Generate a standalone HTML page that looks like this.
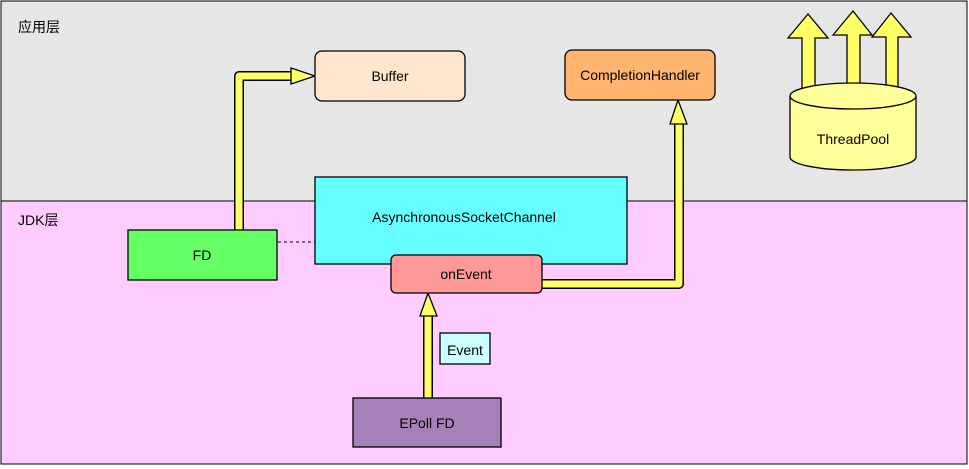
<!DOCTYPE html>
<html><head><meta charset="utf-8"><style>
body{margin:0;background:#fff}
svg{display:block;font-family:"Liberation Sans","Noto Sans CJK SC",sans-serif}
</style></head><body>
<svg width="969" height="469" viewBox="0 0 969 469">
<rect x="1" y="1" width="966" height="200" fill="#E6E6E6" stroke="#000" stroke-width="1"/>
<rect x="1" y="201" width="966" height="263" fill="#FFCCFF" stroke="#000" stroke-width="1"/>
<text x="18" y="32" font-size="14" fill="#000">应用层</text>
<text x="18" y="225" font-size="14" fill="#000">JDK层</text>

<g fill="none" stroke-linejoin="round">
<path d="M239,231 V76 H296" stroke="#000" stroke-width="10"/>
<path d="M239,231 V76 H296" stroke="#FFFF66" stroke-width="7"/>
<path d="M541,284 H679 V122" stroke="#000" stroke-width="10"/>
<path d="M541,284 H679 V122" stroke="#FFFF66" stroke-width="7"/>
<path d="M428,398 V315" stroke="#000" stroke-width="10"/>
<path d="M428,398 V315" stroke="#FFFF66" stroke-width="7"/>
</g>
<g fill="#FFFF66" stroke="#000" stroke-width="1.3">
<polygon points="291,68 315,76 291,84"/>
<polygon points="670,124 678,100 687,124"/>
<polygon points="420,316 428,293 437,316"/>
<polygon points="788,38 808,14 828,38 815,38 815,90 802,90 802,38"/>
<polygon points="833,35 853,11 872,35 860,35 860,90 847,90 847,35"/>
<polygon points="872,37 891,13 911,37 898,37 898,90 886,90 886,37"/>
</g>

<path d="M790,96 V157 A63,13 0 0 0 916,157 V96" fill="#FFFF99" stroke="#000" stroke-width="1.3"/>
<ellipse cx="853" cy="96" rx="63" ry="13" fill="#FFFF99" stroke="#000" stroke-width="1.3"/>
<text x="853" y="144" font-size="14" text-anchor="middle">ThreadPool</text>

<rect x="315" y="51" width="150" height="50" rx="7" fill="#FFE6CC" stroke="#000" stroke-width="1.3"/>
<text x="390" y="81" font-size="14" text-anchor="middle">Buffer</text>
<rect x="565" y="50" width="150" height="50" rx="7" fill="#FFB570" stroke="#000" stroke-width="1.3"/>
<text x="640" y="80" font-size="14" text-anchor="middle">CompletionHandler</text>

<line x1="278" y1="242" x2="315" y2="242" stroke="#000" stroke-width="1" stroke-dasharray="3,3"/>
<rect x="315" y="177" width="312" height="87" fill="#66FFFF" stroke="#000" stroke-width="1.3"/>
<text x="464" y="222" font-size="14" text-anchor="middle">AsynchronousSocketChannel</text>
<rect x="391" y="255" width="151" height="38" rx="5" fill="#FF9999" stroke="#000" stroke-width="1.3"/>
<text x="466" y="279" font-size="14" text-anchor="middle">onEvent</text>

<rect x="128" y="230" width="149" height="50" fill="#66FF66" stroke="#000" stroke-width="1.3"/>
<text x="202" y="260" font-size="14" text-anchor="middle">FD</text>

<rect x="440" y="333" width="50" height="31" fill="#CCFFFF" stroke="#000" stroke-width="1.3"/>
<text x="465" y="355" font-size="14" text-anchor="middle">Event</text>

<rect x="353" y="398" width="148" height="49" fill="#A680B8" stroke="#000" stroke-width="1.3"/>
<text x="427" y="428" font-size="14" text-anchor="middle">EPoll FD</text>
</svg>
</body></html>
